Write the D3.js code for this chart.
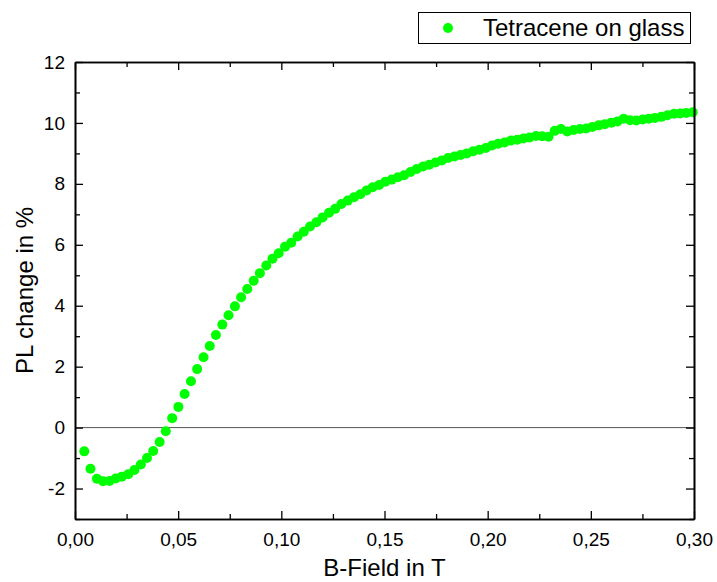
<!DOCTYPE html>
<html>
<head>
<meta charset="utf-8">
<script src="https://cdn.jsdelivr.net/npm/d3@7"></script>
<style>
  body { margin: 0; background: #fff; }
  svg { display: block; font-family: "Liberation Sans", Arial, sans-serif; }
</style>
</head>
<body>
<div id="chart"></div>
<script>
// B-field (T) and PL change (%)
const bField = [
  0.0045, 0.0075, 0.0106, 0.0136, 0.0167, 0.0197, 0.0227, 0.0258, 0.0288, 0.0319,
  0.0349, 0.0379, 0.0410, 0.0440, 0.0471, 0.0501, 0.0531, 0.0562, 0.0592, 0.0623,
  0.0653, 0.0683, 0.0714, 0.0744, 0.0775, 0.0805, 0.0835, 0.0866, 0.0896, 0.0927,
  0.0957, 0.0987, 0.1018, 0.1048, 0.1079, 0.1109, 0.1139, 0.1170, 0.1200, 0.1231,
  0.1261, 0.1291, 0.1322, 0.1352, 0.1383, 0.1413, 0.1443, 0.1474, 0.1504, 0.1535,
  0.1565, 0.1595, 0.1626, 0.1656, 0.1687, 0.1717, 0.1747, 0.1778, 0.1808, 0.1839,
  0.1869, 0.1899, 0.1930, 0.1960, 0.1991, 0.2021, 0.2051, 0.2082, 0.2112, 0.2143,
  0.2173, 0.2203, 0.2234, 0.2264, 0.2295, 0.2325, 0.2355, 0.2386, 0.2416, 0.2447,
  0.2477, 0.2507, 0.2538, 0.2568, 0.2599, 0.2629, 0.2659, 0.2690, 0.2720, 0.2751,
  0.2781, 0.2811, 0.2842, 0.2872, 0.2903, 0.2933, 0.2963, 0.2994
];

const plChange = [
  -0.78, -1.35, -1.68, -1.76, -1.75, -1.67, -1.61, -1.53, -1.39, -1.21,
  -1.00, -0.77, -0.47, -0.12, 0.31, 0.68, 1.10, 1.52, 1.92, 2.31,
  2.68, 3.04, 3.38, 3.69, 3.98, 4.28, 4.55, 4.82, 5.07, 5.32,
  5.54, 5.72, 5.94, 6.07, 6.27, 6.43, 6.60, 6.74, 6.90, 7.05,
  7.18, 7.34, 7.45, 7.56, 7.66, 7.78, 7.89, 7.96, 8.07, 8.14,
  8.22, 8.28, 8.39, 8.49, 8.57, 8.63, 8.70, 8.77, 8.85, 8.90,
  8.95, 9.00, 9.07, 9.12, 9.18, 9.26, 9.32, 9.36, 9.42, 9.45,
  9.49, 9.52, 9.57, 9.56, 9.55, 9.74, 9.80, 9.72, 9.77, 9.80,
  9.82, 9.87, 9.92, 9.96, 10.01, 10.05, 10.14, 10.09, 10.08, 10.11,
  10.14, 10.16, 10.20, 10.25, 10.30, 10.31, 10.33, 10.35
];

const xMajorTicks = [0, 0.05, 0.10, 0.15, 0.20, 0.25, 0.30];
const xMinorTicks = [0.025, 0.075, 0.125, 0.175, 0.225, 0.275];
const yMajorTicks = [-2, 0, 2, 4, 6, 8, 10, 12];
const yMinorTicks = [-3, -1, 1, 3, 5, 7, 9, 11];

const seriesName = "Tetracene on glass";
const xTitle = "B-Field in T";
const yTitle = "PL change in %";

const width = 717, height = 582;
const margin = {top: 62, right: 23, bottom: 63, left: 75};
const innerW = width - margin.left - margin.right;
const innerH = height - margin.top - margin.bottom;

const dotColor = "#00ff00";

// comma as decimal separator, plain hyphen as minus
const locale = d3.formatLocale({decimal: ",", thousands: ".", grouping: [3], currency: ["", ""], minus: "-"});
const fmtX = locale.format(".2f");
const fmtY = locale.format("d");

const svg = d3.select("#chart")
  .append("svg")
  .attr("width", width)
  .attr("height", height);

const x = d3.scaleLinear().domain([0, 0.30]).range([0, innerW]);
const y = d3.scaleLinear().domain([-3, 12]).range([innerH, 0]);

const g = svg.append("g").attr("transform", `translate(${margin.left},${margin.top})`);

// zero line
g.append("line")
  .attr("x1", 0).attr("x2", innerW)
  .attr("y1", y(0)).attr("y2", y(0))
  .attr("stroke", "#555")
  .attr("stroke-width", 1);

// data points
g.selectAll("circle.pt")
  .data(bField.map((b, i) => [b, plChange[i]]))
  .enter()
  .append("circle")
  .attr("class", "pt")
  .attr("cx", d => x(d[0]))
  .attr("cy", d => y(d[1]))
  .attr("r", 5)
  .attr("fill", dotColor);

// axes, ticks point inwards on all four sides
const major = 8, minor = 5;

const styleAxis = (sel, fontSize) => {
  sel.select(".domain").attr("stroke", "#000").attr("stroke-width", 1.6);
  sel.selectAll(".tick line").attr("stroke", "#000").attr("stroke-width", 1.3);
  sel.selectAll(".tick text").attr("fill", "#000").style("font-size", fontSize + "px");
};

// minor ticks first so the domain lines sit on top
g.append("g").attr("transform", `translate(0,${innerH})`)
  .call(d3.axisBottom(x).tickValues(xMinorTicks).tickSize(-minor).tickFormat("").tickSizeOuter(0))
  .call(s => styleAxis(s, 19));
g.append("g")
  .call(d3.axisTop(x).tickValues(xMinorTicks).tickSize(-minor).tickFormat("").tickSizeOuter(0))
  .call(s => styleAxis(s, 19));
g.append("g")
  .call(d3.axisLeft(y).tickValues(yMinorTicks).tickSize(-minor).tickFormat("").tickSizeOuter(0))
  .call(s => styleAxis(s, 19));
g.append("g").attr("transform", `translate(${innerW},0)`)
  .call(d3.axisRight(y).tickValues(yMinorTicks).tickSize(-minor).tickFormat("").tickSizeOuter(0))
  .call(s => styleAxis(s, 19));

const xAxis = g.append("g").attr("transform", `translate(0,${innerH})`)
  .call(d3.axisBottom(x).tickValues(xMajorTicks).tickSizeInner(-major).tickSizeOuter(0)
    .tickPadding(14).tickFormat(fmtX))
  .call(s => styleAxis(s, 19));
g.append("g")
  .call(d3.axisTop(x).tickValues(xMajorTicks).tickSizeInner(-major).tickSizeOuter(0).tickFormat(""))
  .call(s => styleAxis(s, 19));
g.append("g")
  .call(d3.axisLeft(y).tickValues(yMajorTicks).tickSizeInner(-major).tickSizeOuter(0)
    .tickPadding(10).tickFormat(fmtY))
  .call(s => styleAxis(s, 19));
g.append("g").attr("transform", `translate(${innerW},0)`)
  .call(d3.axisRight(y).tickValues(yMajorTicks).tickSizeInner(-major).tickSizeOuter(0).tickFormat(""))
  .call(s => styleAxis(s, 19));

xAxis.selectAll(".tick text").attr("dy", "0.71em");

// axis titles
svg.append("text")
  .attr("x", margin.left + innerW / 2)
  .attr("y", 576)
  .attr("text-anchor", "middle")
  .style("font-size", "24px")
  .text(xTitle);

svg.append("text")
  .attr("transform", `translate(33,${margin.top + innerH / 2}) rotate(-90)`)
  .attr("text-anchor", "middle")
  .style("font-size", "24px")
  .text(yTitle);

// legend
const legend = svg.append("g");
legend.append("rect")
  .attr("x", 418.5).attr("y", 12.5)
  .attr("width", 272).attr("height", 31)
  .attr("fill", "#fff")
  .attr("stroke", "#000")
  .attr("stroke-width", 1);
legend.append("circle")
  .attr("cx", 448).attr("cy", 28)
  .attr("r", 5)
  .attr("fill", dotColor);
legend.append("text")
  .attr("x", 483).attr("y", 36)
  .style("font-size", "24px")
  .text(seriesName);
</script>
</body>
</html>
